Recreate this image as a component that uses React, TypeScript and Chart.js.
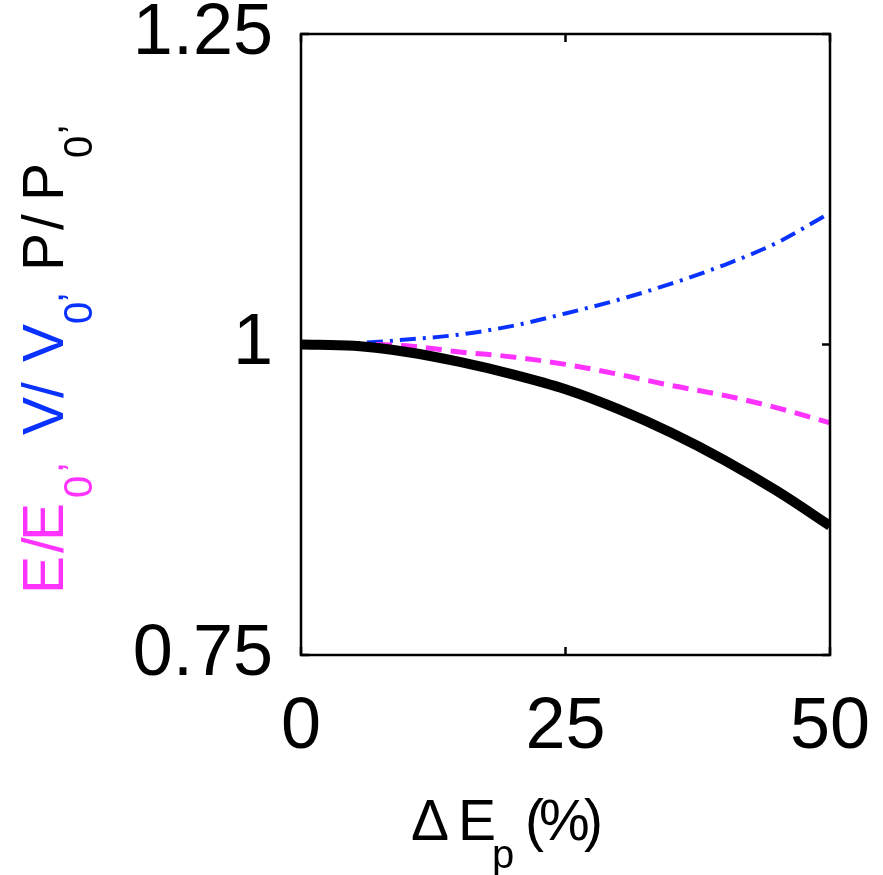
import React, { useEffect, useRef } from "react";
import { Chart, registerables } from "chart.js";

Chart.register(...registerables);

// ---- data ----
const xValues = [0, 5, 10, 15, 20, 25, 30, 35, 40, 45, 50];
const powerRatio = [1.0, 0.999, 0.994, 0.986, 0.976, 0.964, 0.948, 0.929, 0.907, 0.882, 0.854];
const energyRatio = [1.0, 1.0, 0.999, 0.994, 0.99, 0.984, 0.976, 0.967, 0.959, 0.949, 0.937];
const volumeRatio = [1.0, 1.001, 1.004, 1.008, 1.015, 1.025, 1.036, 1.049, 1.064, 1.082, 1.106];
const xTickValues = [0, 25, 50];
const yTickValues = [0.75, 1, 1.25];

const MAGENTA = "#ff33ff";
const BLUE = "#0a32ff";
const FONT = "'Liberation Sans', Arial, Helvetica, sans-serif";

type Glyph = { t: string; pos: number; base: number; size: number; color: string };

// y-axis title (rotated, reading bottom -> top); pos = screen y where the glyph ink starts
const yTitleGlyphs: Glyph[] = [
  { t: "E", pos: 590, base: 63, size: 57, color: MAGENTA },
  { t: "/", pos: 553, base: 63, size: 57, color: MAGENTA },
  { t: "E", pos: 537, base: 63, size: 57, color: MAGENTA },
  { t: "0", pos: 497, base: 92, size: 40, color: MAGENTA },
  { t: ",", pos: 470, base: 63, size: 40, color: MAGENTA },
  { t: "V", pos: 435, base: 63, size: 57, color: BLUE },
  { t: "/", pos: 398, base: 63, size: 57, color: BLUE },
  { t: "V", pos: 362, base: 63, size: 57, color: BLUE },
  { t: "0", pos: 323, base: 92, size: 40, color: BLUE },
  { t: ",", pos: 300, base: 63, size: 40, color: BLUE },
  { t: "P", pos: 267, base: 63, size: 57, color: "#000" },
  { t: "/", pos: 230, base: 63, size: 57, color: "#000" },
  { t: "P", pos: 197, base: 63, size: 57, color: "#000" },
  { t: "0", pos: 157, base: 92, size: 40, color: "#000" },
  { t: ",", pos: 132, base: 63, size: 40, color: "#000" },
];

// x-axis title; pos = screen x where the glyph ink starts
const xTitleGlyphs: Glyph[] = [
  { t: "Δ", pos: 412, base: 840, size: 57, color: "#000" },
  { t: "E", pos: 462, base: 840, size: 57, color: "#000" },
  { t: "p", pos: 494, base: 868, size: 40, color: "#000" },
  { t: "(", pos: 528, base: 840, size: 57, color: "#000" },
  { t: "%", pos: 541, base: 840, size: 57, color: "#000" },
  { t: ")", pos: 584, base: 840, size: 57, color: "#000" },
];

const frameAndTitles = {
  id: "frameAndTitles",
  afterDatasetsDraw(chart: any) {
    const ctx = chart.ctx as CanvasRenderingContext2D;
    const { left, right, top, bottom } = chart.chartArea;
    const xs = chart.scales.x;
    const ys = chart.scales.y;
    ctx.save();
    ctx.strokeStyle = "#000";
    ctx.lineWidth = 2.5;
    ctx.strokeRect(left, top, right - left, bottom - top);
    const tl = 8;
    ctx.beginPath();
    yTickValues.forEach((v) => {
      const py = ys.getPixelForValue(v);
      ctx.moveTo(left, py);
      ctx.lineTo(left + tl, py);
      ctx.moveTo(right, py);
      ctx.lineTo(right - tl, py);
    });
    xTickValues.forEach((v) => {
      const px = xs.getPixelForValue(v);
      ctx.moveTo(px, bottom);
      ctx.lineTo(px, bottom - tl);
      ctx.moveTo(px, top);
      ctx.lineTo(px, top + tl);
    });
    ctx.stroke();

    ctx.textAlign = "left";
    ctx.textBaseline = "alphabetic";
    yTitleGlyphs.forEach((g) => {
      ctx.save();
      ctx.font = `${g.size}px ${FONT}`;
      ctx.fillStyle = g.color;
      const m = ctx.measureText(g.t);
      ctx.translate(g.base, g.pos);
      ctx.rotate(-Math.PI / 2);
      ctx.fillText(g.t, m.actualBoundingBoxLeft, 0);
      ctx.restore();
    });
    xTitleGlyphs.forEach((g) => {
      ctx.font = `${g.size}px ${FONT}`;
      ctx.fillStyle = g.color;
      const m = ctx.measureText(g.t);
      ctx.fillText(g.t, g.pos + m.actualBoundingBoxLeft, g.base);
    });
    ctx.restore();
  },
};

function toPoints(ys: number[]) {
  return xValues.map((x, i) => ({ x, y: ys[i] }));
}

export default function App() {
  const ref = useRef<HTMLCanvasElement | null>(null);
  useEffect(() => {
    if (!ref.current) return;
    const chart = new Chart(ref.current, {
      type: "line",
      data: {
        datasets: [
          {
            label: "P/P0",
            data: toPoints(powerRatio),
            borderColor: "#000",
            borderWidth: 10,
            pointRadius: 0,
            cubicInterpolationMode: "monotone",
            fill: false,
          },
          {
            label: "E/E0",
            data: toPoints(energyRatio),
            borderColor: MAGENTA,
            borderWidth: 5,
            borderDash: [16, 9],
            pointRadius: 0,
            cubicInterpolationMode: "monotone",
            fill: false,
          },
          {
            label: "V/V0",
            data: toPoints(volumeRatio),
            borderColor: BLUE,
            borderWidth: 4,
            borderDash: [16, 7, 3, 7],
            pointRadius: 0,
            cubicInterpolationMode: "monotone",
            fill: false,
          },
        ],
      },
      options: {
        responsive: false,
        animation: false,
        devicePixelRatio: 1,
        layout: { padding: { left: 0, right: 53, top: 34, bottom: 0 } },
        plugins: { legend: { display: false }, tooltip: { enabled: false }, title: { display: false } },
        scales: {
          x: {
            type: "linear",
            min: 0,
            max: 50,
            grid: { display: false, drawTicks: false },
            border: { display: false },
            afterBuildTicks: (s: any) => {
              s.ticks = xTickValues.map((v) => ({ value: v }));
            },
            afterFit: (s: any) => {
              s.height = 220;
              s.paddingLeft = 0;
              s.paddingRight = 0;
            },
            ticks: {
              font: { family: FONT, size: 72 },
              color: "#000",
              padding: 30,
              maxRotation: 0,
              autoSkip: false,
              callback: (v: any) => String(v),
            },
          },
          y: {
            type: "linear",
            min: 0.75,
            max: 1.25,
            grid: { display: false, drawTicks: false },
            border: { display: false },
            afterBuildTicks: (s: any) => {
              s.ticks = yTickValues.map((v) => ({ value: v }));
            },
            afterFit: (s: any) => {
              s.width = 301;
              s.paddingTop = 0;
              s.paddingBottom = 0;
            },
            ticks: {
              font: { family: FONT, size: 72 },
              color: "#000",
              padding: 28,
              autoSkip: false,
              callback: (v: any) => String(v),
            },
          },
        },
      },
      plugins: [frameAndTitles],
    });
    return () => chart.destroy();
  }, []);
  return (
    <div style={{ position: "absolute", left: 0, top: 0, width: 883, height: 875, background: "#fff" }}>
      <canvas ref={ref} width={883} height={875} style={{ display: "block", width: 883, height: 875 }} />
    </div>
  );
}
